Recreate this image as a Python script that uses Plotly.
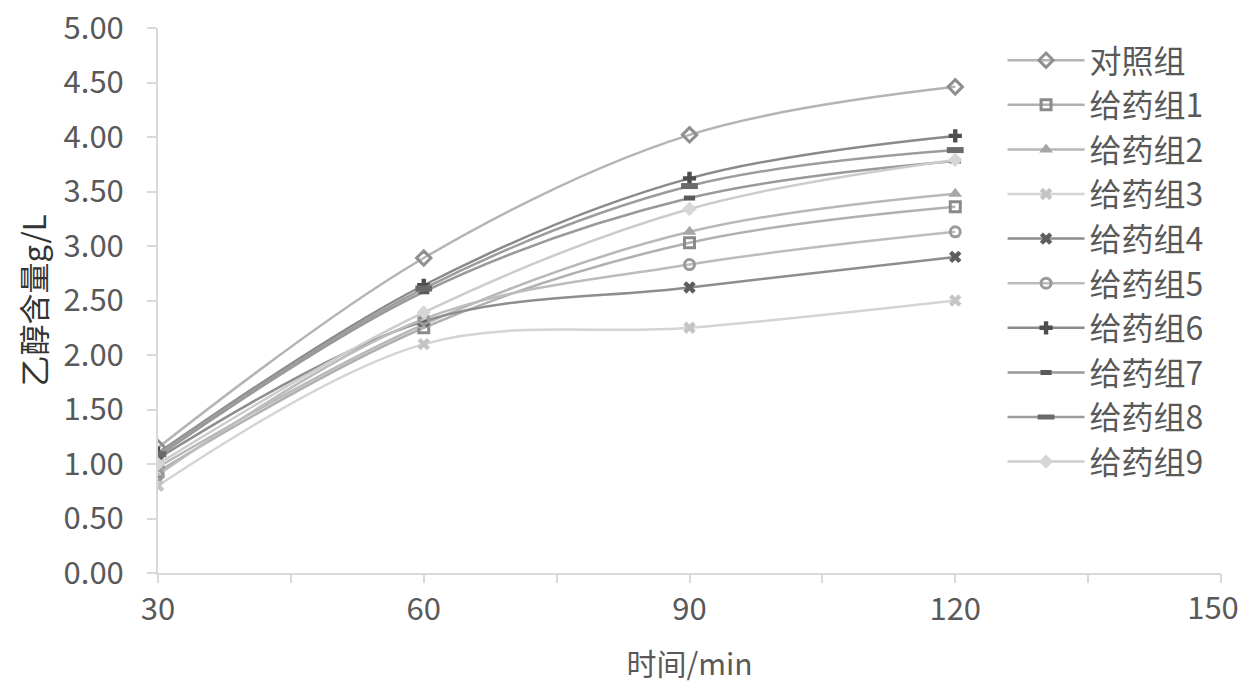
import plotly.graph_objects as go

times = [30, 60, 90, 120]
series_names = ["对照组", "给药组1", "给药组2", "给药组3", "给药组4", "给药组5",
                "给药组6", "给药组7", "给药组8", "给药组9"]
control = [1.15, 2.89, 4.02, 4.46]
group1 = [0.93, 2.25, 3.03, 3.36]
group2 = [0.97, 2.28, 3.13, 3.48]
group3 = [0.80, 2.10, 2.25, 2.50]
group4 = [1.05, 2.31, 2.62, 2.90]
group5 = [0.90, 2.33, 2.83, 3.13]
group6 = [1.10, 2.64, 3.62, 4.01]
group7 = [1.07, 2.58, 3.44, 3.78]
group8 = [1.09, 2.61, 3.55, 3.88]
group9 = [1.00, 2.39, 3.34, 3.79]
values = [control, group1, group2, group3, group4, group5, group6, group7, group8, group9]

x_ticks = [30, 60, 90, 120]
x_last_tick = [150]
x_minor = [45, 75, 105, 135]
y_ticks = [0, 0.5, 1, 1.5, 2, 2.5, 3, 3.5, 4, 4.5, 5]
y_ticktext = ["0.00", "0.50", "1.00", "1.50", "2.00", "2.50",
              "3.00", "3.50", "4.00", "4.50", "5.00"]

line_colors = ["#b4b4b4", "#b0b0b0", "#b8b8b8", "#d4d4d4", "#8e8e8e",
               "#bcbcbc", "#8a8a8a", "#999999", "#9c9c9c", "#cccccc"]
marker_colors = ["#8f8f8f", "#8a8a8a", "#a6a6a6", "#c4c4c4", "#5e5e5e",
                 "#9a9a9a", "#4e4e4e", "#5a5a5a", "#6a6a6a", "#d6d6d6"]
symbols = ["diamond-open", "square-open", "triangle-up", "x", "x",
           "circle-open", "cross", "line-ew-open", "line-ew-open", "diamond"]
sizes = [11, 10, 12, 11, 11, 10, 11, 8, 12, 11]
mlw = [3, 3, 0, 0, 0, 3, 0, 5, 6, 0]

fig = go.Figure()
for i, (name, vals, lc, mc, sym, sz, lw) in enumerate(zip(series_names, values, line_colors,
                                           marker_colors, symbols, sizes, mlw)):
    fig.add_trace(go.Scatter(
        x=times, y=vals, name=name, mode="lines+markers", legendgroup=f"g{i}",
        line=dict(color=lc, width=2.5, shape="spline", smoothing=1.0),
        marker=dict(symbol=sym, size=sz, color=mc,
                    line=dict(color=mc, width=lw)),
    ))
# empty helper trace so the secondary x axis (last tick label) is drawn
fig.add_trace(go.Scatter(x=[], y=[], xaxis="x2", yaxis="y", showlegend=False,
                         hoverinfo="skip"))

font_family = "Noto Sans CJK SC, Noto Sans, sans-serif"
tick_font = dict(size=31, color="#595959")
fig.update_layout(
    width=1240, height=690,
    margin=dict(l=158, r=19, t=28, b=117),
    plot_bgcolor="white", paper_bgcolor="white",
    font=dict(family=font_family, color="#595959", size=31),
    showlegend=True,
    legend=dict(x=0.7945, y=0.991, xanchor="left", yanchor="top",
                font=dict(size=32, color="#595959"),
                itemwidth=77, bgcolor="rgba(0,0,0,0)",
                tracegroupgap=0),
    xaxis=dict(range=[30, 150], tickvals=x_ticks + x_last_tick,
               ticktext=[str(v) for v in x_ticks] + [""],
               automargin=False,
               showgrid=False, zeroline=False,
               showline=True, linecolor="#d9d9d9", linewidth=2,
               ticks="outside", ticklen=8, tickcolor="#d9d9d9", tickwidth=2,
               minor=dict(tickvals=x_minor, ticks="outside",
                          ticklen=8, tickcolor="#d9d9d9", tickwidth=2),
               tickfont=tick_font,
               ticklabelstandoff=0,
               title=dict(text="时间/min", font=dict(size=30, color="#595959"),
                          standoff=26)),
    xaxis2=dict(range=[30, 150], overlaying="x", anchor="y", side="bottom",
                tickvals=x_last_tick, automargin=False,
                ticklabeloverflow="allow",
                showgrid=False, zeroline=False, showline=False,
                ticks="outside", ticklen=8, tickcolor="#d9d9d9", tickwidth=2,
                tickfont=tick_font, ticklabelstandoff=0, ticklabelshift=-8),
    yaxis=dict(range=[0, 5], tickvals=y_ticks, ticktext=y_ticktext,
               automargin=False, ticklabeloverflow="allow",
               showgrid=False, zeroline=False,
               showline=True, linecolor="#d9d9d9", linewidth=2,
               ticks="outside", ticklen=9, tickcolor="#d9d9d9", tickwidth=2,
               tickfont=tick_font,
               ticklabelstandoff=17,
               title=dict(text="乙醇含量g/L", font=dict(size=31, color="#333333"),
                          standoff=8)),
)

fig.write_html("out.html")
